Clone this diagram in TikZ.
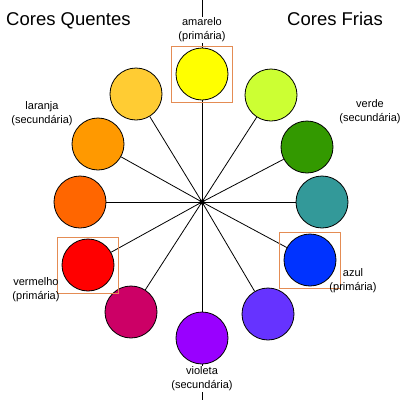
\documentclass[tikz,border=0pt]{standalone}
\usepackage{fontspec}
\setmainfont{Liberation Sans}
\usepackage{tikz}

\definecolor{amarelo}{HTML}{FFFF00}
\definecolor{amarlar}{HTML}{FFCC33}
\definecolor{laranja}{HTML}{FF9900}
\definecolor{larverm}{HTML}{FF6600}
\definecolor{vermelho}{HTML}{FF0000}
\definecolor{vermviol}{HTML}{CC0066}
\definecolor{violeta}{HTML}{9900FF}
\definecolor{violazul}{HTML}{6633FF}
\definecolor{azul}{HTML}{0033FF}
\definecolor{azulverde}{HTML}{339999}
\definecolor{verde}{HTML}{339900}
\definecolor{verdeamar}{HTML}{CCFF33}
\definecolor{moldcor}{RGB}{228,140,84}

\begin{document}
\begin{tikzpicture}[x=1pt, y=-1pt,
  disc/.style={circle, draw, line width=0.8pt, minimum size=52pt, inner sep=0pt},
  moldura/.style={draw=moldcor, line width=1pt, minimum width=61pt, minimum height=56pt, inner sep=0pt},
  rotulo/.style={align=center, inner sep=1pt, font=\fontsize{11}{14}\selectfont},
  fundo/.style={fill=white},
  titulo/.style={anchor=base west, inner sep=0pt, font=\fontsize{18.5}{22}\selectfont}]

\useasboundingbox (0,0) rectangle (400,400);

\coordinate (c) at (202,202);
\coordinate (topo) at (202,0);
\coordinate (base) at (202,400);
\draw [line width=0.8pt] (topo) -- (base);

% circulo cromatico
\foreach \n/\x/\y in {amarelo/202/74, amarlar/136/94, laranja/98/144, larverm/80/202,
  vermelho/88/265, vermviol/131/312, violeta/202/338, violazul/268/314,
  azul/310/260, azulverde/322/202, verde/307/147, verdeamar/271/95} {
\node [disc, fill=\n] (\n) at (\x, \y) {};
\draw [line width=0.8pt] (c) -- (\n);
}
\fill (c) circle (2.5);

% primarias
\node [moldura] (mamarelo) at (amarelo) {};
\node [moldura] (mvermelho) at (vermelho) {};
\node [moldura] (mazul) at (azul) {};

\node [rotulo, fundo] (lamarelo) at (202,30) {amarelo\\(primária)};
\node [rotulo] (llaranja) at (42,114) {laranja\\(secundária)};
\node [rotulo] (lverde) at (370,112) {verde\\(secundária)};
\node [rotulo] (lvermelho) at (36,290) {vermelho\\(primária)};
\node [rotulo] (lazul) at (353,281) {azul\\(primária)};
\node [rotulo, fundo] (lvioleta) at (202,379) {violeta\\(secundária)};

\node [titulo] (quentes) at (6,25) {Cores Quentes};
\node [titulo] (frias) at (287,25) {Cores Frias};

\end{tikzpicture}
\end{document}
